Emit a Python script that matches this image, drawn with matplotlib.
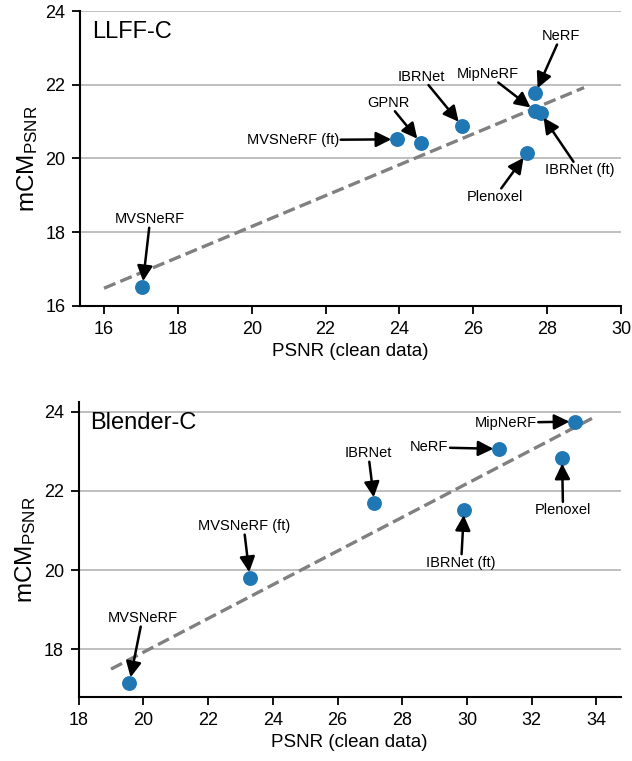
import numpy as np
import matplotlib
matplotlib.use("Agg")
import matplotlib.pyplot as plt

plt.rcParams['font.family'] = ['Liberation Sans', 'DejaVu Sans']
plt.rcParams['mathtext.fontset'] = 'custom'
plt.rcParams['mathtext.rm'] = 'Liberation Sans'
plt.rcParams['mathtext.it'] = 'Liberation Sans:italic'
plt.rcParams['mathtext.bf'] = 'Liberation Sans:bold'

# LLFF-C data: PSNR on clean data vs mean corruption PSNR
llff_methods = ['MVSNeRF', 'MVSNeRF (ft)', 'GPNR', 'IBRNet', 'NeRF',
                'MipNeRF', 'IBRNet (ft)', 'Plenoxel']
llff_psnr = [17.04, 23.93, 24.58, 25.70, 27.68, 27.67, 27.82, 27.45]
llff_mcm = [16.52, 20.52, 20.42, 20.88, 21.77, 21.29, 21.23, 20.14]
llff_label_x = [17.25, 21.12, 23.69, 24.60, 28.37, 26.38, 28.87, 26.59]
llff_label_y = [18.35, 20.50, 21.51, 22.22, 23.32, 22.29, 19.68, 18.96]

# Blender-C data
blender_methods = ['MVSNeRF', 'MVSNeRF (ft)', 'IBRNet', 'IBRNet (ft)', 'NeRF',
                   'MipNeRF', 'Plenoxel']
blender_psnr = [19.57, 23.29, 27.14, 29.91, 30.99, 33.34, 32.94]
blender_mcm = [17.16, 19.81, 21.70, 21.53, 23.06, 23.75, 22.83]
blender_label_x = [19.97, 23.10, 26.95, 29.82, 28.84, 31.20, 32.97]
blender_label_y = [18.79, 21.11, 22.95, 20.19, 23.10, 23.72, 21.51]

POINT_COLOR = '#1f77b4'


def draw_panel(ax, title, psnr, mcm, methods, label_x, label_y):
    """Scatter of methods with a least-squares trend line and labels."""
    ax.grid(True, axis='y', color='#b4b4b4', linewidth=1.2, zorder=0)
    ax.set_axisbelow(True)

    # trend line, drawn from round(min)-1 to round(max)+1
    slope, intercept = np.polyfit(psnr, mcm, 1)
    x_fit = np.array([round(min(psnr)) - 1, round(max(psnr)) + 1])
    ax.plot(x_fit, slope * x_fit + intercept, linestyle='--', color='gray',
            linewidth=2.4, zorder=2)

    ax.scatter(psnr, mcm, s=115, color=POINT_COLOR, zorder=3, linewidths=0)

    for name, px, py, tx, ty in zip(methods, psnr, mcm, label_x, label_y):
        ax.annotate(name, xy=(px, py), xytext=(tx, ty), fontsize=10.5,
                    ha='center', va='center', zorder=4,
                    bbox=dict(boxstyle='square,pad=0.1', fc='none', ec='none'),
                    arrowprops=dict(arrowstyle='-|>', color='black', lw=1.8,
                                    mutation_scale=23, shrinkA=0, shrinkB=4))

    ax.text(0.022, 0.965, title, transform=ax.transAxes, fontsize=17,
            ha='left', va='top')

    ax.set_xlabel('PSNR (clean data)', fontsize=13.5)
    ax.set_ylabel(r'mCM$_{\mathrm{PSNR}}$', fontsize=17.5)
    for side in ('top', 'right'):
        ax.spines[side].set_visible(False)
    for side in ('left', 'bottom'):
        ax.spines[side].set_linewidth(1.5)
    ax.tick_params(labelsize=13, length=5.5, width=1.3, pad=5)


fig = plt.figure(figsize=(6.32, 7.61), dpi=100)
ax_top = fig.add_axes([0.1266, 0.598, 0.856, 0.3875])
ax_bot = fig.add_axes([0.1245, 0.0841, 0.8575, 0.388])

draw_panel(ax_top, 'LLFF-C', llff_psnr, llff_mcm, llff_methods,
           llff_label_x, llff_label_y)
ax_top.set_xlim(15.35, 30)
ax_top.set_ylim(16, 24)
ax_top.set_xticks(np.arange(16, 31, 2))
ax_top.set_yticks(np.arange(16, 25, 2))

draw_panel(ax_bot, 'Blender-C', blender_psnr, blender_mcm, blender_methods,
           blender_label_x, blender_label_y)
ax_bot.set_xlim(18, 34.75)
ax_bot.set_ylim(16.8, 24.25)
ax_bot.set_xticks(np.arange(18, 35, 2))
ax_bot.set_yticks(np.arange(18, 25, 2))

fig.savefig('out.png', dpi=100)
